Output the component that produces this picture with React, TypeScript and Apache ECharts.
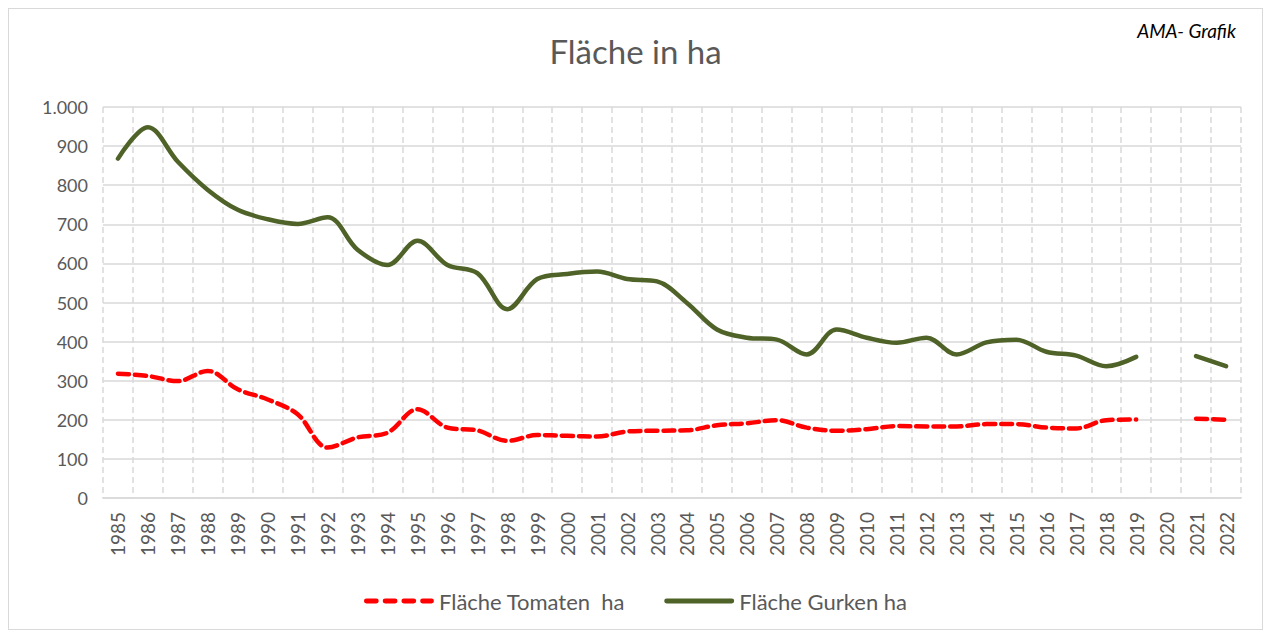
import React, { useEffect, useRef } from "react";
import * as echarts from "echarts";

const years = [
  "1985", "1986", "1987", "1988", "1989", "1990", "1991", "1992", "1993", "1994",
  "1995", "1996", "1997", "1998", "1999", "2000", "2001", "2002", "2003", "2004",
  "2005", "2006", "2007", "2008", "2009", "2010", "2011", "2012", "2013", "2014",
  "2015", "2016", "2017", "2018", "2019", "2020", "2021", "2022",
];

const tomaten = [
  318, 312, 299, 325, 278, 252, 214, 129, 155, 167,
  227, 180, 173, 146, 161, 159, 157, 170, 172, 173,
  186, 191, 199, 180, 172, 176, 184, 183, 183, 189,
  189, 180, 178, 199, 201, null, 203, 200,
];

const gurken = [
  868, 948, 860, 788, 737, 713, 701, 718, 635, 596,
  658, 596, 575, 483, 560, 573, 579, 560, 554, 499,
  431, 410, 405, 367, 431, 410, 397, 410, 367, 398,
  405, 374, 364, 337, 361, null, 363, 337,
];

const yTicks = [0, 100, 200, 300, 400, 500, 600, 700, 800, 900, 1000];

const FONT = "Lato, 'Open Sans', sans-serif";
const GREY = "#595959";
const RED = "#ff0000";
const GREEN = "#4f6228";

const dashIcon = "path://M2,0h10a2,2 0 0 1 0,5h-10a2,2 0 0 1 0,-5z M21,0h10a2,2 0 0 1 0,5h-10a2,2 0 0 1 0,-5z M40,0h10a2,2 0 0 1 0,5h-10a2,2 0 0 1 0,-5z M59,0h9a2,2 0 0 1 0,5h-9a2,2 0 0 1 0,-5z";
const solidIcon = "path://M2,0h66a2,2 0 0 1 0,5h-66a2,2 0 0 1 0,-5z";

export default function App() {
  const ref = useRef<HTMLDivElement>(null);
  useEffect(() => {
    if (!ref.current) return;
    const chart = echarts.init(ref.current, undefined, { renderer: "svg" });
    chart.setOption({
      animation: false,
      textStyle: { fontFamily: FONT },
      title: {
        text: "Fläche in ha",
        left: "center",
        top: 20,
        textStyle: { fontFamily: FONT, fontSize: 33, fontWeight: "normal", color: GREY },
      },
      graphic: [
        {
          type: "text",
          right: 26,
          top: 12,
          style: {
            text: "AMA- Grafik",
            font: `italic 19px ${FONT}`,
            fill: "#000",
          },
        },
      ],
      legend: {
        bottom: 12,
        left: "center",
        itemWidth: 70,
        itemHeight: 5,
        itemGap: 39,
        textStyle: { fontFamily: FONT, fontSize: 22, color: GREY },
        data: [
          { name: "Fläche Tomaten  ha", icon: dashIcon, itemStyle: { color: RED } },
          { name: "Fläche Gurken ha", icon: solidIcon, itemStyle: { color: GREEN } },
        ],
      },
      grid: { left: 94, right: 21, top: 98, bottom: 131 },
      xAxis: {
        type: "category",
        data: years,
        boundaryGap: true,
        axisLine: { lineStyle: { color: "#d9d9d9", width: 1.5 } },
        axisTick: { show: false },
        axisLabel: { rotate: 90, fontSize: 19, color: GREY, fontFamily: FONT, margin: 14, interval: 0 },
        splitLine: { show: true, interval: 0, lineStyle: { color: "#d9d9d9", type: [6, 4], width: 1.5 } },
      },
      yAxis: {
        type: "value",
        min: yTicks[0],
        max: yTicks[yTicks.length - 1],
        interval: 100,
        axisLine: { show: false },
        axisTick: { show: false },
        axisLabel: {
          fontSize: 18,
          color: GREY,
          fontFamily: FONT,
          margin: 15,
          formatter: (v: number) => v.toLocaleString("de-DE"),
        },
        splitLine: { lineStyle: { color: "#d9d9d9", width: 1.5 } },
      },
      series: [
        {
          name: "Fläche Tomaten  ha",
          type: "line",
          data: tomaten,
          smooth: 0.35,
          connectNulls: false,
          symbol: "none",
          showSymbol: false,
          itemStyle: { color: RED },
          lineStyle: { color: RED, width: 4.5, type: [11, 6], cap: "round" },
        },
        {
          name: "Fläche Gurken ha",
          type: "line",
          data: gurken,
          smooth: 0.35,
          connectNulls: false,
          symbol: "none",
          showSymbol: false,
          itemStyle: { color: GREEN },
          lineStyle: { color: GREEN, width: 4.5, cap: "round" },
        },
      ],
    });
    return () => chart.dispose();
  }, []);
  return (
    <div
      ref={ref}
      style={{
        width: 1255,
        height: 622,
        border: "1px solid #d9d9d9",
        boxSizing: "border-box",
        background: "#fff",
      }}
    />
  );
}
